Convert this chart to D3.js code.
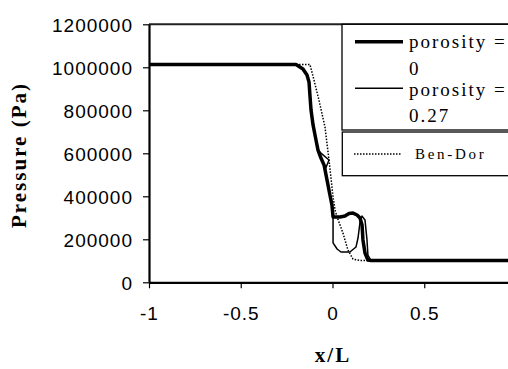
<!DOCTYPE html>
<html>
<head>
<meta charset="utf-8">
<script src="https://cdn.jsdelivr.net/npm/d3@7"></script>
<style>
  html, body { margin: 0; padding: 0; background: #fff; overflow: hidden; }
  svg { display: block; }
</style>
</head>
<body>
<div id="chart"></div>
<script>
// Pressure along the tube
const porosity0 = [
  [-1, 1013250], [-0.199, 1013250], [-0.161, 992000], [-0.139, 964000], [-0.128, 932000],
  [-0.123, 871000], [-0.117, 801000], [-0.106, 732000], [-0.090, 662000], [-0.079, 615000],
  [-0.063, 578000], [-0.046, 546000], [-0.030, 476000], [-0.014, 406000], [-0.003, 360000],
  [0.003, 304000], [0.041, 304000], [0.068, 308000], [0.090, 320000], [0.112, 322000],
  [0.134, 313000], [0.150, 299000], [0.161, 267000], [0.166, 197000], [0.177, 136000],
  [0.193, 104000], [0.210, 101325], [1, 101325]
];

const porosity027 = [
  [-1, 1013250], [-0.199, 1013250], [-0.161, 992000], [-0.139, 964000], [-0.128, 932000],
  [-0.123, 871000], [-0.117, 801000], [-0.106, 732000], [-0.090, 662000], [-0.079, 615000],
  [-0.063, 601000], [-0.019, 569000], [-0.041, 522000], [-0.030, 476000], [-0.014, 406000],
  [-0.003, 360000], [0.003, 304000], [0.003, 183000], [0.025, 155000], [0.046, 141000],
  [0.095, 141000], [0.128, 164000], [0.139, 206000], [0.150, 280000], [0.161, 308000],
  [0.177, 290000], [0.188, 197000], [0.193, 127000], [0.210, 101325], [1, 101325]
];

const benDor = [
  [-1, 1013250], [-0.123, 1013250], [-0.101, 941000], [-0.074, 848000], [-0.041, 722000],
  [-0.019, 569000], [0.003, 397000], [0.014, 336000], [0.025, 304000], [0.057, 229000],
  [0.084, 150000], [0.112, 108000], [0.150, 101325], [1, 101325]
];

const xTicks = [-1, -0.5, 0, 0.5];
const yTicks = [0, 200000, 400000, 600000, 800000, 1000000, 1200000];

const width = 508, height = 369;

const svg = d3.select("#chart").append("svg")
  .attr("width", width)
  .attr("height", height);

const x = d3.scaleLinear().domain([-1, 1]).range([149, 516]);
const y = d3.scaleLinear().domain([0, 1200000]).range([282.3, 24.3]);

// plot area top border (right side is off the picture)
svg.append("line")
  .attr("x1", x(-1)).attr("x2", width + 10)
  .attr("y1", y(1200000)).attr("y2", y(1200000))
  .attr("stroke", "#222").attr("stroke-width", 2);

// Curves
const line = d3.line().x(d => x(d[0])).y(d => y(d[1]));

svg.append("path").datum(benDor)
  .attr("d", line)
  .attr("fill", "none")
  .attr("stroke", "#000")
  .attr("stroke-width", 1.5)
  .attr("stroke-dasharray", "1.5 1.5");

svg.append("path").datum(porosity027)
  .attr("d", line)
  .attr("fill", "none")
  .attr("stroke", "#000")
  .attr("stroke-width", 1.5)
  .attr("stroke-linejoin", "round");

svg.append("path").datum(porosity0)
  .attr("d", line)
  .attr("fill", "none")
  .attr("stroke", "#000")
  .attr("stroke-width", 3.5)
  .attr("stroke-linejoin", "round");

// Axes
const fmt = d => String(d);

const yAxis = svg.append("g")
  .attr("transform", `translate(${x(-1)},0)`)
  .call(d3.axisLeft(y).tickValues(yTicks).tickFormat(fmt).tickSize(6).tickSizeOuter(0));

const xAxis = svg.append("g")
  .attr("transform", `translate(0,${y(0)})`)
  .call(d3.axisBottom(x).tickValues(xTicks).tickFormat(fmt).tickSize(6).tickSizeOuter(0));

[yAxis, xAxis].forEach(g => {
  g.select(".domain").attr("stroke", "#000").attr("stroke-width", 2.2);
  g.selectAll(".tick line").attr("stroke", "#000").attr("stroke-width", 1.2);
  g.selectAll(".tick text")
    .attr("fill", "#000")
    .style("font-family", "'Liberation Sans', Arial, sans-serif")
    .style("font-size", "19px")
    .style("letter-spacing", "1px");
});
yAxis.selectAll(".tick text").attr("x", -16).attr("dy", "0.36em");
xAxis.selectAll(".tick text").attr("y", 24).attr("dy", "0.71em");

// Axis titles
svg.append("text")
  .attr("transform", "translate(26,155) rotate(-90)")
  .attr("text-anchor", "middle")
  .style("font-family", "'Liberation Serif', 'Times New Roman', serif")
  .style("font-weight", "bold")
  .style("font-size", "21px")
  .style("letter-spacing", "2px")
  .text("Pressure (Pa)");

svg.append("text")
  .attr("x", 333).attr("y", 362)
  .attr("text-anchor", "middle")
  .style("font-family", "'Liberation Serif', 'Times New Roman', serif")
  .style("font-weight", "bold")
  .style("font-size", "21px")
  .style("letter-spacing", "2px")
  .text("x/L");

// Legend boxes
const legend = svg.append("g");
legend.append("rect")
  .attr("x", 342).attr("y", 24.3).attr("width", 200).attr("height", 105.7)
  .attr("fill", "#fff").attr("stroke", "#000").attr("stroke-width", 1.3);
legend.append("rect")
  .attr("x", 342.3).attr("y", 132).attr("width", 200).attr("height", 43.7)
  .attr("fill", "#fff").attr("stroke", "#000").attr("stroke-width", 1.3);

const serif = "'Liberation Serif', 'Times New Roman', serif";

legend.append("line")
  .attr("x1", 355).attr("x2", 403).attr("y1", 41.7).attr("y2", 41.7)
  .attr("stroke", "#000").attr("stroke-width", 3.5);
legend.append("line")
  .attr("x1", 355).attr("x2", 403).attr("y1", 88.3).attr("y2", 88.3)
  .attr("stroke", "#000").attr("stroke-width", 1.5);
legend.append("line")
  .attr("x1", 354).attr("x2", 402).attr("y1", 154).attr("y2", 154)
  .attr("stroke", "#000").attr("stroke-width", 1.5).attr("stroke-dasharray", "1.5 1.5");

const legendText = [
  { t: "porosity =", x: 409, y: 48 },
  { t: "0", x: 409, y: 75 },
  { t: "porosity =", x: 409, y: 96 },
  { t: "0.27", x: 409, y: 122 }
];
legend.selectAll("text.lt")
  .data(legendText)
  .enter().append("text")
  .attr("class", "lt")
  .attr("x", d => d.x).attr("y", d => d.y)
  .style("font-family", serif)
  .style("font-size", "19px")
  .style("letter-spacing", "2px")
  .text(d => d.t);

legend.append("text")
  .attr("x", 415).attr("y", 159)
  .style("font-family", serif)
  .style("font-size", "15px")
  .style("letter-spacing", "2.7px")
  .text("Ben-Dor");
</script>
</body>
</html>
